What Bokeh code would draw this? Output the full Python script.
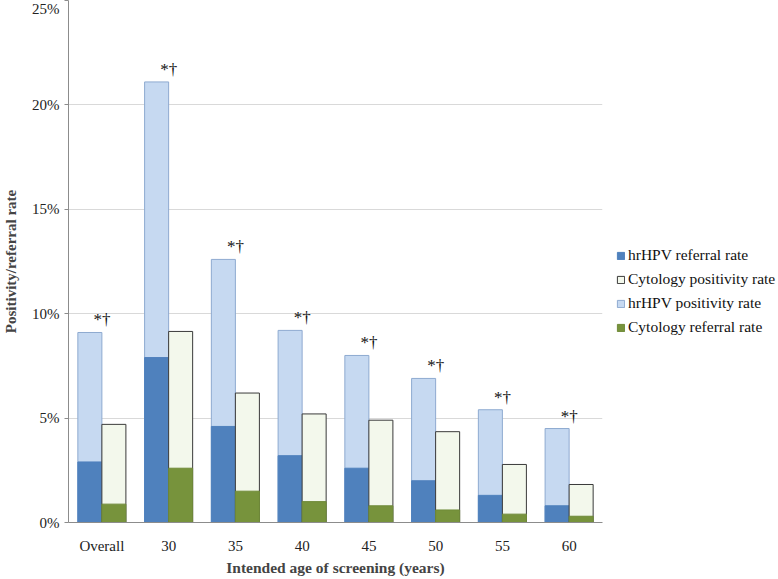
from bokeh.plotting import figure
from bokeh.models import (ColumnDataSource, FactorRange, Range1d, Legend, LegendItem,
                          PrintfTickFormatter, FixedTicker)
from bokeh.transform import dodge
from bokeh.core.properties import value
from bokeh.embed import file_html
from bokeh.resources import INLINE

categories = ["Overall", "30", "35", "40", "45", "50", "55", "60"]
hrhpv_positivity = [9.1, 21.1, 12.6, 9.2, 8.0, 6.9, 5.4, 4.5]
hrhpv_referral = [2.9, 7.9, 4.6, 3.2, 2.6, 2.0, 1.3, 0.8]
cytology_positivity = [4.7, 9.15, 6.2, 5.2, 4.9, 4.35, 2.78, 1.82]
cytology_referral = [0.88, 2.6, 1.5, 1.0, 0.8, 0.6, 0.4, 0.3]
annotations = ["*†"] * 8
y_ticks = [0, 5, 10, 15, 20, 25]

FONT = "Liberation Serif"

src = ColumnDataSource(dict(
    cat=categories, hp=hrhpv_positivity, hr=hrhpv_referral,
    cp=cytology_positivity, cr=cytology_referral, ann=annotations,
))

p = figure(x_range=FactorRange(*categories, range_padding=0.0),
           y_range=Range1d(0, 25),
           frame_width=534, frame_height=522,
           min_border_left=58, min_border_top=0, min_border_bottom=49, min_border_right=0,
           output_backend="svg", toolbar_location=None)
p.outline_line_color = None
p.background_fill_color = "white"
p.border_fill_color = "white"

bw = 0.36
r_hp = p.vbar(x=dodge("cat", -0.18, range=p.x_range), top="hp", width=bw, source=src,
              fill_color="#c6d9f1", line_color="#8eaad0", line_width=1)
r_hr = p.vbar(x=dodge("cat", -0.18, range=p.x_range), top="hr", width=bw, source=src,
              fill_color="#4f81bd", line_color="#4f81bd", line_width=1)
r_cp = p.vbar(x=dodge("cat", 0.18, range=p.x_range), top="cp", width=bw, source=src,
              fill_color="#f3f8ec", line_color="#3a3a3a", line_width=1)
r_cr = p.vbar(x=dodge("cat", 0.18, range=p.x_range), top="cr", width=bw, source=src,
              fill_color="#77933c", line_color="#6f8a38", line_width=1)

p.text(x="cat", y="hp", text="ann", source=src, text_align="center",
       text_baseline="bottom", y_offset=-3, text_font=value(FONT),
       text_font_size="17px", text_color="#111111")

# axes
p.yaxis.ticker = FixedTicker(ticks=y_ticks)
p.yaxis.formatter = PrintfTickFormatter(format="%d%%")
p.yaxis.axis_label = "Positivity/referral rate"
p.yaxis.axis_label_text_font = FONT
p.yaxis.axis_label_text_font_style = "bold"
p.yaxis.axis_label_text_font_size = "15px"
p.yaxis.axis_label_standoff = 10
p.yaxis.major_label_text_font = FONT
p.yaxis.major_label_text_font_size = "15px"
p.yaxis.major_label_text_color = "#222222"
p.yaxis.axis_line_color = "#8c8c8c"
p.yaxis.major_tick_line_color = "#8c8c8c"
p.yaxis.major_tick_out = 4
p.yaxis.major_tick_in = 0
p.yaxis.minor_tick_line_color = None

p.xaxis.axis_label = "Intended age of screening (years)"
p.xaxis.axis_label_text_font = FONT
p.xaxis.axis_label_text_font_style = "bold"
p.xaxis.axis_label_text_font_size = "15.5px"
p.xaxis.axis_label_standoff = 2
p.xaxis.major_label_text_font = FONT
p.xaxis.major_label_text_font_size = "15px"
p.xaxis.major_label_text_color = "#222222"
p.xaxis.major_label_standoff = 9
p.xaxis.axis_line_color = "#8c8c8c"
p.xaxis.major_tick_line_color = None
p.xaxis.minor_tick_line_color = None

p.xgrid.grid_line_color = None
p.ygrid.grid_line_color = "#d9d9d9"
p.ygrid.ticker = FixedTicker(ticks=y_ticks)

legend = Legend(items=[
    LegendItem(label="hrHPV referral rate", renderers=[r_hr]),
    LegendItem(label="Cytology positivity rate", renderers=[r_cp]),
    LegendItem(label="hrHPV positivity rate", renderers=[r_hp]),
    LegendItem(label="Cytology referral rate", renderers=[r_cr]),
], location=(14, 186))
legend.label_text_font = FONT
legend.label_text_font_size = "15.5px"
legend.label_text_color = "#111111"
legend.glyph_width = 9
legend.glyph_height = 9
legend.label_height = 18
legend.spacing = 6
legend.label_standoff = 3
legend.padding = 0
legend.margin = 0
legend.border_line_color = None
legend.background_fill_alpha = 0
p.add_layout(legend, "right")
p.min_border_right = 0

open("out.html", "w").write(file_html(p, INLINE))
